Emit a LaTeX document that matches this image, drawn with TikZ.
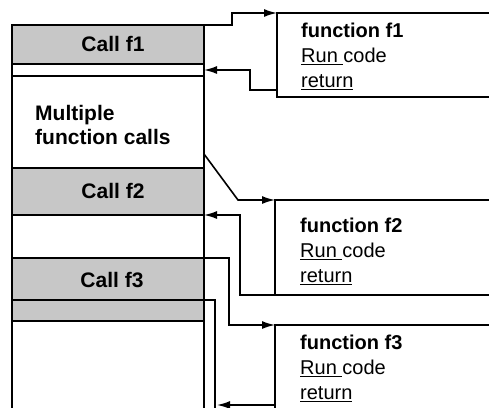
\documentclass[tikz,border=0pt]{standalone}
\usepackage{fontspec}
\setmainfont{Liberation Sans}
\usetikzlibrary{arrows.meta}
\begin{document}
\begin{tikzpicture}[x=1pt,y=-1pt,
  band/.style={draw, line width=1.6pt, minimum width=192pt, inner sep=0pt, outer sep=0pt, anchor=north west},
  shade/.style={fill=black!22},
  fbox/.style={draw, line width=1.6pt, minimum width=260pt, inner sep=0pt, outer sep=0pt, anchor=north west},
  ftext/.style={anchor=north west, inner sep=0pt, align=left, font=\fontsize{20}{25}\selectfont},
  clabel/.style={font=\bfseries\fontsize{21}{24}\selectfont, inner sep=0pt},
  arr/.style={line width=1.6pt, -{Latex[length=13pt,width=8pt]}},
  con/.style={line width=1.6pt}]
\useasboundingbox (0,0) rectangle (489,407);
\clip (0,0) rectangle (489,407);
% left column
\node[band, shade, minimum height=39pt, line width=2.2pt] (call1) at (12,25) {};
\node[band, minimum height=12pt] (strip1) at (12,64) {};
\node[band, minimum height=92pt] (multi) at (12,76) {};
\node[band, shade, minimum height=47pt] (call2) at (12,168) {};
\node[band, minimum height=43pt] (blank2) at (12,215) {};
\node[band, shade, minimum height=42pt] (call3) at (12,258) {};
\node[band, shade, minimum height=21pt] (strip3) at (12,300) {};
\node[band, minimum height=100pt] (rest) at (12,321) {};
\node[clabel] (l1) at (113,44) {Call f1};
\node[clabel] (l2) at (113,191) {Call f2};
\node[clabel] (l3) at (112,280) {Call f3};
\node[clabel, anchor=north west, align=left] (lm) at (35,105) {Multiple\\function calls};
% function boxes
\node[fbox, minimum height=84pt] (f1) at (277,13) {};
\node[fbox, minimum height=95pt] (f2) at (275,200) {};
\node[fbox, minimum height=95pt] (f3) at (275,325) {};
\node[ftext] (t1) at (301,22.5) {\textbf{function f1}\\\underline{Run\ }code\\\underline{return}};
\node[ftext] (t2) at (300,217.5) {\textbf{function f2}\\\underline{Run\ }code\\\underline{return}};
\node[ftext] (t3) at (300,334.5) {\textbf{function f3}\\\underline{Run\ }code\\\underline{return}};
% connectors
\draw[arr] (call1.north east) -- ++(28,0) |- (f1.north west);
\draw[arr] ([yshift=7pt]f1.south west) -- ++(-27,0) |- (strip1.east);
\draw[arr] ([yshift=14pt]multi.south east) -- ++(34,46) -- (f2.north west);
\draw[arr] (f2.south west) -- ++(-35,0) |- (blank2.north east);
\draw[arr] (call3.north east) -- ++(25,0) |- (f3.north west);
\coordinate (r3bot) at (215,410);
\coordinate (r3tip) at (217,405);
\draw[con] (strip3.north east) -| (r3bot);
\draw[arr] ([yshift=15pt]f3.south west) -- (r3tip);
\end{tikzpicture}
\end{document}
